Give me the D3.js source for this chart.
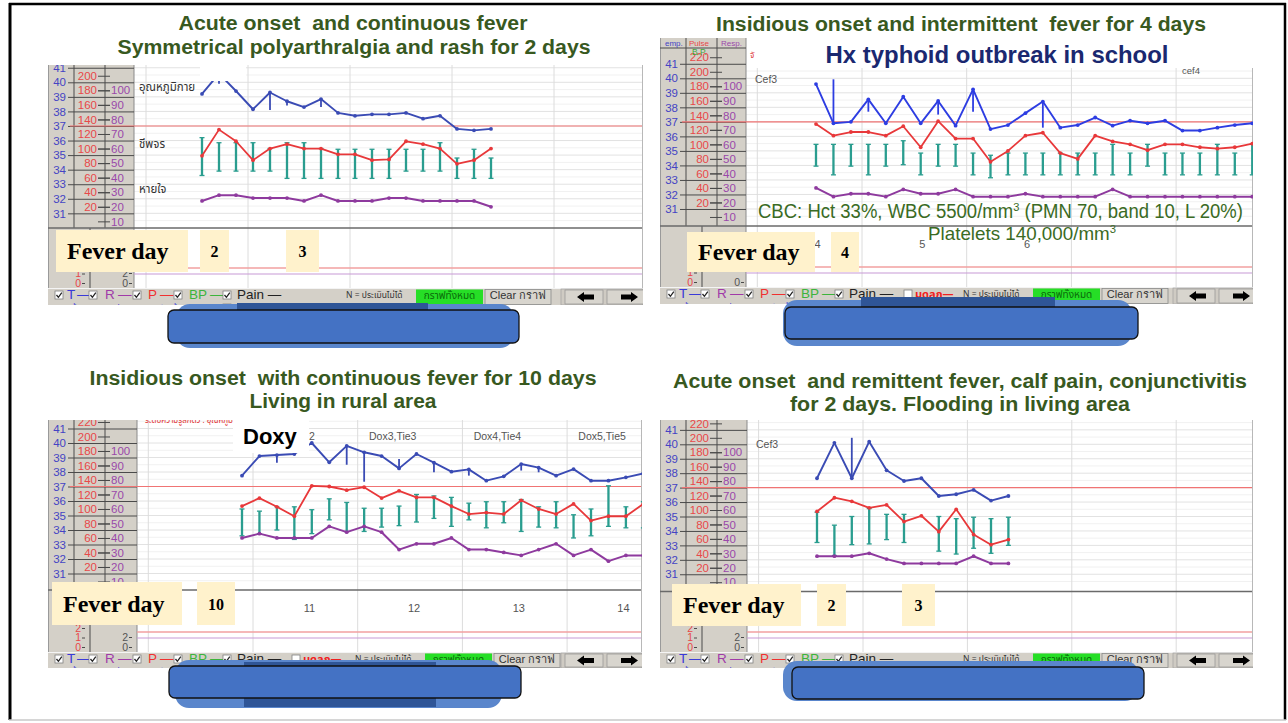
<!DOCTYPE html>
<html>
<head>
<meta charset="utf-8">
<script src="https://cdn.jsdelivr.net/npm/d3@7/dist/d3.min.js"></script>
<style>
html,body{margin:0;padding:0;background:#fff;}
svg{display:block;}
text{white-space:pre;}
</style>
</head>
<body>
<svg id="chart" width="1288" height="723"></svg>
<script>
// ================= DATA =================
// Panel 1 : acute onset, continuous fever (4-hourly readings)
const p1Temp  = [39.2,40.6,39.4,38.15,39.3,38.7,38.3,38.85,37.9,37.7,37.8,37.8,37.9,37.5,37.7,36.8,36.7,36.8];
const p1TempMarks = [[1,39.9],[4,38.1],[5,38.4],[7,38.3]];
const p1Pulse = [90,126,110,84,100,106,100,100,92,92,84,85,110,106,100,79,84,100];
const p1BpSys = [115,108,108,108,100,108,108,100,99,99,99,99,99,99,108,87,99,87];
const p1BpDia = [63,69,69,69,69,59,59,59,59,59,59,59,69,69,69,59,59,59];
const p1Resp  = [24,28,28,26,26,26,24,28,24,24,24,26,26,24,24,24,24,20];

// Panel 2 : insidious onset, intermittent fever
const p2Temp  = [39.6,36.9,37.0,38.55,36.9,38.73,36.9,38.44,36.74,39.24,36.5,36.78,37.6,38.4,36.6,36.78,37.3,36.74,37.08,36.9,37.08,36.4,36.4,36.6,36.78,36.9];
const p2TempMarks = [[1,39.93],[3,37.7],[7,37.5],[9,37.7],[13,36.6]];
const p2Pulse = [128,112,117,117,112,125,96,132,108,108,76,91,112,116,88,80,112,104,100,92,100,100,96,94,96,101];
const p2BpSys = [100,100,100,100,100,105,88,100,100,88,85,88,88,88,88,88,88,100,88,100,88,88,88,100,88,100];
const p2BpDia = [70,58,70,58,70,72,58,70,70,58,54,58,58,58,58,58,58,58,58,70,58,58,58,58,58,58];
const p2Resp  = [30,24,26,26,24,29,26,26,29,24,24,24,26,24,24,24,24,29,24,24,24,24,24,24,24,24];

// Panel 3 : insidious onset, continuous fever 10 days
const p3Temp  = [37.75,39.1,39.17,39.24,40.0,38.67,39.8,39.36,39.1,38.25,39.24,38.64,38.02,38.18,37.4,37.7,38.55,38.3,37.75,38.2,37.4,37.4,37.63,37.9];
const p3TempMarks = [[2,38.64],[6,38.5],[7,37.33],[9,38.9],[11,37.98],[13,37.75],[16,38.1],[17,37.98]];
const p3Pulse = [104,115,103,90,132,131,126,130,115,125,116,116,104,93,95,93,112,100,93,107,84,90,90,107];
const p3BpSys = [100,97,103,103,99,114,109,101,101,104,120,118,116,108,110,110,113,103,110,92,100,132,103,110];
const p3BpDia = [63,66,71,58,66,85,69,69,75,77,82,87,76,85,74,81,69,75,74,60,63,76,74,74];
const p3Resp  = [40,43,40,40,40,48,44,48,44,32,36,36,40,32,32,30,28,32,36,28,32,24,28,28];

// Panel 4 : acute onset, remittent fever
const p4Temp  = [37.65,40.1,37.65,40.18,38.2,37.46,37.65,36.42,36.54,36.84,36.1,36.42];
const p4TempMarks = [[2,40.45]];
const p4Pulse = [98,117,112,103,107,84,92,70,101,66,52,59];
const p4BpSys = [97,79,91,102,94,94,null,91,88,90,88,90];
const p4BpDia = [55,37,52,53,59,55,null,43,39,47,40,51];
const p4Resp  = [28,28,28,30,26,23,23,23,23,28,23,23];

// Axis tick values
const tempTicks  = [31,32,33,34,35,36,37,38,39,40,41];
const pulseTicks = [20,40,60,80,100,120,140,160,180,200,220];
const respTicks  = [10,20,30,40,50,60,70,80,90,100];
const levelTicks = [0,1,2];
const level2Ticks = [0,2];

// Texts
const titles = [
  ["Acute onset  and continuous fever","Symmetrical polyarthralgia and rash for 2 days"],
  ["Insidious onset and intermittent  fever for 4 days","Hx typhoid outbreak in school"],
  ["Insidious onset  with continuous fever for 10 days","Living in rural area"],
  ["Acute onset  and remittent fever, calf pain, conjunctivitis","for 2 days. Flooding in living area"]
];
const feverDayNumbers = [["2","3"],["4"],["10"],["2","3"]];
const dayLabels = [[],["4","5","6"],["11","12","13","14"],[]];
const p1SeriesNames = ["อุณหภูมิกาย","ชีพจร","หายใจ"];
const p3DrugLabels = ["2","Dox3,Tie3","Dox4,Tie4","Dox5,Tie5"];
const cbcLine1 = ["CBC: Hct 33%, WBC 5500/mm","3"," (PMN 70, band 10, L 20%)"];
const cbcLine2 = ["Platelets 140,000/mm","3"];

// ================= LAYOUT =================
const SANS = "'Liberation Sans', Arial, Helvetica, sans-serif";
const SERIF = "'Liberation Serif', 'Times New Roman', serif";
const THAI = "'Noto Sans Thai','Loma','Garuda','Tlwg Typist','Noto Sans','DejaVu Sans',sans-serif";

const PANELS = [
 {id:1, x0:48,  top:65,  plotTop:65,  right:643,  axW:86, sep:228,   tb:288, tbH:17, y40:82.3,  deg:14.56, xFirst:202, step:17,    grid0:248, md:false, tempColor:'#3A4BB4', dayOff:0,  dayShift:4, btnShift:-5},
 {id:2, x0:660, top:38,  plotTop:68,  right:1253, axW:86, sep:226,   tb:287, tbH:17, y40:78.3,  deg:14.52, xFirst:816, step:17.45, grid0:862, md:true,  tempColor:'#2D3DE2', dayOff:-1, dayShift:8, btnShift:0},
 {id:3, x0:48,  top:420, plotTop:420, right:642,  axW:89, sep:590,   tb:652, tbH:16, y40:443,   deg:14.5,  xFirst:242, step:17.45, grid0:253, md:true,  tempColor:'#3A4BB4', dayOff:0,  dayShift:4, btnShift:4},
 {id:4, x0:660, top:420, plotTop:420, right:1253, axW:87, sep:591.5, tb:652, tbH:16, y40:444.3, deg:14.44, xFirst:817, step:17.4,  grid0:863, md:false, tempColor:'#3A4BB4', dayOff:-1, dayShift:4, btnShift:0}
];
const feverBoxes = [
  {x:56,  y:230, w:132, h:42, nums:[{x:200,w:29},{x:286,w:33}]},
  {x:687, y:232, w:128, h:40, nums:[{x:831,w:28}]},
  {x:52,  y:582, w:130, h:43, nums:[{x:197,w:38}]},
  {x:672, y:584, w:129, h:42, nums:[{x:817,w:29},{x:902,w:33}]}
];
const panelData = [
  {temp:p1Temp, marks:p1TempMarks, pulse:p1Pulse, sys:p1BpSys, dia:p1BpDia, resp:p1Resp},
  {temp:p2Temp, marks:p2TempMarks, pulse:p2Pulse, sys:p2BpSys, dia:p2BpDia, resp:p2Resp},
  {temp:p3Temp, marks:p3TempMarks, pulse:p3Pulse, sys:p3BpSys, dia:p3BpDia, resp:p3Resp},
  {temp:p4Temp, marks:p4TempMarks, pulse:p4Pulse, sys:p4BpSys, dia:p4BpDia, resp:p4Resp}
];
const COL = {pulse:'#E8383A', resp:'#8E3A9E', bp:'#2A9D8F', tempLbl:'#4444C4', pulseLbl:'#E84848', respLbl:'#9A48AA', gray:'#D4D0C8'};

const svg = d3.select('#chart');
const defs = svg.append('defs');
svg.append('rect').attr('width',1288).attr('height',723).attr('fill','#fff');

function styleAxis(sel, color, size) {
  sel.select('.domain').remove();
  sel.selectAll('.tick line').attr('stroke','#4a4a4a').attr('stroke-width',1);
  sel.selectAll('.tick text').attr('fill',color).attr('font-size',size).attr('font-family',SANS);
}

function checkbox(g, x, y, checked) {
  g.append('rect').attr('x',x).attr('y',y).attr('width',8).attr('height',8)
    .attr('fill','#fff').attr('stroke','#808080').attr('stroke-width',0.8);
  if (checked) g.append('path').attr('d',`M${x+1.5},${y+4} L${x+3.4},${y+6.3} L${x+6.8},${y+1.6}`)
    .attr('fill','none').attr('stroke','#222').attr('stroke-width',1.3);
}

function arrow(g, cx, cy, dir) {
  const s = dir;
  g.append('path').attr('d',
    `M${cx-9*s},${cy} L${cx-2*s},${cy-5} L${cx-2*s},${cy-2.5} L${cx+8*s},${cy-2.5} L${cx+8*s},${cy+2.5} L${cx-2*s},${cy+2.5} L${cx-2*s},${cy+5} Z`)
    .attr('fill','#000');
}

function toolbar(g, c) {
  const x0 = c.x0, y0 = c.tb, w = c.right - c.x0, h = c.tbH, bs = c.btnShift;
  const t = g.append('g');
  t.append('rect').attr('x',x0).attr('y',y0).attr('width',w).attr('height',h+4).attr('fill',COL.gray);
  t.append('line').attr('x1',x0).attr('x2',x0+w).attr('y1',y0+0.5).attr('y2',y0+0.5).attr('stroke','#f4f4f4');
  const ty = y0 + 11, by = y0 + 3;
  const items = [
    ['cb',7],['T',19,'#3A3AD8'],['—',29,'#3A3AD8'],['cb',41],['R',57,'#A03AA8'],['—',70,'#A03AA8'],
    ['cb',85],['P',100,'#F03030'],['—',112,'#F03030'],['cb',126],['BP',141,'#3CB43C'],['—',162,'#3CB43C'],
    ['cb',175],['Pain —',189,'#222']
  ];
  items.forEach(it => {
    if (it[0] === 'cb') checkbox(t, x0+it[1], by, true);
    else t.append('text').attr('x',x0+it[1]).attr('y',ty).attr('fill',it[2])
      .attr('font-family',SANS).attr('font-size',13.5).text(it[0]);
  });
  if (c.md) {
    checkbox(t, x0+244, by, false);
    t.append('text').attr('x',x0+255).attr('y',ty-0.5).attr('fill','#F02020').attr('font-weight','bold')
      .attr('font-family',THAI).attr('font-size',11).text('มดลูก—');
  }
  t.append('text').attr('x',x0+303+bs).attr('y',ty-1.5).attr('fill','#333').attr('font-family',THAI)
    .attr('font-size',8.5).text('N = ประเมินไม่ได้');
  // second row (mostly hidden below the toolbar edge)
  [['• • = ก้น',7],['• • = ปาก',50],['• • = รักแร้',95],['0 = ท',140]].forEach(r => {
    t.append('text').attr('x',x0+r[1]).attr('y',y0+h+6).attr('fill','#3A3AD8').attr('font-family',THAI)
      .attr('font-size',8).text(r[0]);
  });
  checkbox(t, x0+175, y0+h-1, true);
  // buttons
  t.append('rect').attr('x',x0+373+bs).attr('y',y0+1.5).attr('width',67).attr('height',h-2).attr('fill','#26DE26');
  t.append('text').attr('x',x0+406.5+bs).attr('y',ty).attr('text-anchor','middle').attr('fill','#0A6A0A')
    .attr('font-family',THAI).attr('font-size',10).text('กราฟทั้งหมด');
  t.append('rect').attr('x',x0+442+bs).attr('y',y0+1.5).attr('width',66).attr('height',h-2)
    .attr('fill','#D8D5CE').attr('stroke','#8a8a8a').attr('stroke-width',0.8);
  t.append('text').attr('x',x0+475+bs).attr('y',ty).attr('text-anchor','middle').attr('fill','#333')
    .attr('font-family',SANS).attr('font-size',11).text('Clear กราฟ');
  t.append('rect').attr('x',x0+513).attr('y',y0+1).attr('width',w-513).attr('height',h-1)
    .attr('fill','#CFCBC3').attr('stroke','#9a9a9a').attr('stroke-width',0.6);
  t.append('rect').attr('x',x0+517).attr('y',y0+2).attr('width',38).attr('height',h-3)
    .attr('fill','#D8D5CE').attr('stroke','#888').attr('stroke-width',0.6);
  t.append('rect').attr('x',x0+559).attr('y',y0+2).attr('width',38).attr('height',h-3)
    .attr('fill','#D8D5CE').attr('stroke','#888').attr('stroke-width',0.6);
  arrow(t, x0+538, y0+h/2+0.5, 1);
  arrow(t, x0+581, y0+h/2+0.5, -1);
}

function drawPanel(c, d, pi) {
  defs.append('clipPath').attr('id','clip'+c.id).append('rect')
    .attr('x',c.x0).attr('y',c.top).attr('width',c.right-c.x0).attr('height',c.tb+c.tbH-c.top);
  const g = svg.append('g').attr('clip-path',`url(#clip${c.id})`);
  const ax = c.x0 + c.axW;
  const yT = d3.scaleLinear().domain([31,40]).range([c.y40+9*c.deg, c.y40]);
  const yP = d3.scaleLinear().domain([20,200]).range([yT(31.45), yT(40.45)]);
  const yR = d3.scaleLinear().domain([10,100]).range([yT(30.45), yT(39.45)]);
  const xS = d3.scaleLinear().domain([0,1]).range([c.xFirst, c.xFirst+c.step]);
  const gridStep = c.step*6;
  const yLow = d3.scaleLinear().domain([0,2]).range([c.tb-5, c.tb-24]);
  const yLow2 = d3.scaleLinear().domain([0,2]).range([c.tb-5, c.tb-15]);
  const fb = feverBoxes[pi];
  const visLevels = levelTicks.filter(v => yLow(v) > fb.y + fb.h);
  const visLevels2 = level2Ticks.filter(v => yLow2(v) > fb.y + fb.h);

  // gray axis area + white plot
  g.append('rect').attr('x',c.x0).attr('y',c.top).attr('width',c.axW).attr('height',c.tb-c.top).attr('fill',COL.gray);
  g.append('rect').attr('x',ax).attr('y',c.plotTop).attr('width',c.right-ax).attr('height',c.tb-c.plotTop).attr('fill','#fff');

  // horizontal grid
  const hv = d3.range(30.5,41.6,0.5).filter(t => yT(t) > c.plotTop && yT(t) < c.sep - 2);
  g.append('g').selectAll('line').data(hv).join('line')
    .attr('x1',ax).attr('x2',c.right).attr('y1',t=>yT(t)).attr('y2',t=>yT(t))
    .attr('stroke', t => Number.isInteger(t) ? '#E2E2E2' : '#F1F1F1').attr('stroke-width',1);
  // vertical day grid
  const vg = d3.range(-2,8).map(k => c.grid0 + k*gridStep).filter(x => x > ax + 2 && x < c.right - 1);
  g.append('g').selectAll('line').data(vg).join('line')
    .attr('x1',x=>x).attr('x2',x=>x).attr('y1',c.plotTop).attr('y2',c.tb)
    .attr('stroke','#DCDCDC').attr('stroke-width',1);

  // gray axis lines
  [26,57].forEach(dx => g.append('line').attr('x1',c.x0+dx).attr('x2',c.x0+dx).attr('y1',c.top).attr('y2',c.sep)
    .attr('stroke','#4a4a4a').attr('stroke-width',1));
  g.append('line').attr('x1',c.x0+42).attr('x2',c.x0+42).attr('y1',c.sep).attr('y2',c.tb).attr('stroke','#4a4a4a');
  g.append('line').attr('x1',ax).attr('x2',ax).attr('y1',c.top).attr('y2',c.tb).attr('stroke','#8a8a8a');
  g.append('line').attr('x1',c.x0+0.5).attr('x2',c.x0+0.5).attr('y1',c.top).attr('y2',c.tb).attr('stroke','#9a9a9a');

  // axes
  const tA = g.append('g').attr('transform',`translate(${ax},0)`)
    .call(d3.axisLeft(yT).tickValues(tempTicks).tickSize(c.axW-20).tickPadding(2).tickFormat(d3.format('d')));
  styleAxis(tA, COL.tempLbl, 11.5);
  const pA = g.append('g').attr('transform',`translate(${c.x0+62},0)`)
    .call(d3.axisLeft(yP).tickValues(pulseTicks).tickSize(12).tickPadding(1).tickFormat(d3.format('d')));
  styleAxis(pA, COL.pulseLbl, 11.5);
  const rA = g.append('g').attr('transform',`translate(${c.x0+50},0)`)
    .call(d3.axisRight(yR).tickValues(respTicks).tickSize(12).tickPadding(1).tickFormat(d3.format('d')));
  styleAxis(rA, COL.respLbl, 11.5);
  const lA = g.append('g').attr('transform',`translate(${c.x0+37},0)`)
    .call(d3.axisLeft(yLow).tickValues(visLevels).tickSize(3).tickPadding(1).tickFormat(d3.format('d')));
  styleAxis(lA, COL.pulseLbl, 10.5);
  const lB = g.append('g').attr('transform',`translate(${c.x0+84},0)`)
    .call(d3.axisLeft(yLow2).tickValues(visLevels2).tickSize(3).tickPadding(1).tickFormat(d3.format('d')));
  styleAxis(lB, '#555', 10.5);

  // P2 header cells
  if (c.id === 2) {
    g.append('line').attr('x1',c.x0).attr('x2',ax).attr('y1',c.top+10).attr('y2',c.top+10).attr('stroke','#4a4a4a');
    [['emp.',c.x0+5,'#4444C4'],['Pulse',c.x0+29,'#E84848'],['Resp.',c.x0+61,'#9A48AA']].forEach(h => {
      g.append('text').attr('x',h[1]).attr('y',c.top+8).attr('fill',h[2]).attr('font-family',SANS).attr('font-size',8).text(h[0]);
    });
    g.append('text').attr('x',c.x0+32).attr('y',c.top+17).attr('fill','#3CA83C').attr('font-family',SANS).attr('font-size',8.5).text('B.P.');
    g.append('text').attr('x',ax+4).attr('y',c.top+20).attr('fill','#E04040').attr('font-family',THAI).attr('font-size',8).text('จั');
  }

  // 37 reference line
  g.append('line').attr('x1',c.x0+22).attr('x2',c.right).attr('y1',yT(37)).attr('y2',yT(37))
    .attr('stroke','#F07474').attr('stroke-width',1.2);
  // separator & lower lines
  g.append('line').attr('x1',c.x0).attr('x2',c.right).attr('y1',c.sep).attr('y2',c.sep).attr('stroke','#6a6a6a').attr('stroke-width',1.5);
  g.append('line').attr('x1',ax).attr('x2',c.right).attr('y1',c.tb-20).attr('y2',c.tb-20).attr('stroke','#F2A0A0').attr('stroke-width',1.5);
  g.append('line').attr('x1',ax).attr('x2',c.right).attr('y1',c.tb-14).attr('y2',c.tb-14).attr('stroke','#C89AD6').attr('stroke-width',1.2);
  g.append('line').attr('x1',c.right-0.5).attr('x2',c.right-0.5).attr('y1',c.plotTop).attr('y2',c.tb).attr('stroke','#B8B8B8');

  // day labels
  g.append('g').selectAll('text').data(dayLabels[pi]).join('text')
    .attr('x',(v,k) => c.grid0 + (k + c.dayOff + 0.5)*gridStep + c.dayShift).attr('y',c.sep+22)
    .attr('text-anchor','middle').attr('fill','#555').attr('font-family',SANS).attr('font-size',11).text(v=>v);

  // BP bars
  const bp = d.sys.map((s,i) => ({i, s, dd:d.dia[i]})).filter(v => v.s != null);
  const bg = g.append('g').attr('stroke',COL.bp);
  bg.selectAll('line.bar').data(bp).join('line').attr('class','bar')
    .attr('x1',v=>xS(v.i)).attr('x2',v=>xS(v.i)).attr('y1',v=>yP(v.s)).attr('y2',v=>yP(v.dd)).attr('stroke-width',2.3);
  bg.selectAll('line.capT').data(bp).join('line').attr('class','capT')
    .attr('x1',v=>xS(v.i)-2.5).attr('x2',v=>xS(v.i)+2.5).attr('y1',v=>yP(v.s)).attr('y2',v=>yP(v.s)).attr('stroke-width',1.3);
  bg.selectAll('line.capB').data(bp).join('line').attr('class','capB')
    .attr('x1',v=>xS(v.i)-2.5).attr('x2',v=>xS(v.i)+2.5).attr('y1',v=>yP(v.dd)).attr('y2',v=>yP(v.dd)).attr('stroke-width',1.3);

  // series lines
  const series = [
    {vals:d.resp, y:yR, color:COL.resp, w:2},
    {vals:d.pulse, y:yP, color:COL.pulse, w:1.8},
    {vals:d.temp, y:yT, color:c.tempColor, w:1.9}
  ];
  series.forEach(s => {
    const line = d3.line().defined(v => v != null).x((v,i) => xS(i)).y(v => s.y(v));
    g.append('path').datum(s.vals).attr('d',line).attr('fill','none').attr('stroke',s.color)
      .attr('stroke-width',s.w).attr('stroke-linejoin','round');
    g.append('g').selectAll('circle').data(s.vals.map((v,i)=>({v,i})).filter(o=>o.v!=null)).join('circle')
      .attr('cx',o=>xS(o.i)).attr('cy',o=>s.y(o.v)).attr('r',1.9).attr('fill',s.color);
  });
  // temperature vertical marks
  g.append('g').selectAll('line').data(d.marks).join('line')
    .attr('x1',m=>xS(m[0])).attr('x2',m=>xS(m[0])).attr('y1',m=>yT(d.temp[m[0]])).attr('y2',m=>yT(m[1]))
    .attr('stroke',c.tempColor).attr('stroke-width',1.8);

  // panel specific annotations
  if (c.id === 1) {
    g.append('rect').attr('x',200).attr('y',c.top).attr('width',46).attr('height',16).attr('fill','#fff');
    const ly = [yT(39.4), yT(35.5), yT(32.4)];
    p1SeriesNames.forEach((n,k) => g.append('text').attr('x',ax+5).attr('y',ly[k]).attr('fill','#333')
      .attr('font-family',THAI).attr('font-size',11.5).text(n));
  }
  if (c.id === 2) {
    g.append('text').attr('x',ax+9).attr('y',yT(39.7)).attr('fill','#555').attr('font-family',SANS).attr('font-size',10.5).text('Cef3');
    g.append('text').attr('x',1182).attr('y',yT(40.3)).attr('fill','#555').attr('font-family',SANS).attr('font-size',9.5).text('cef4');
  }
  if (c.id === 3) {
    g.append('text').attr('x',ax+8).attr('y',c.top+3).attr('fill','#E03030').attr('font-family',THAI)
      .attr('font-size',9).attr('textLength',88).attr('lengthAdjust','spacingAndGlyphs').text('ระดับความรู้สึกตัว : อุณหภูมิ');
    g.append('rect').attr('x',233).attr('y',c.top).attr('width',76).attr('height',33).attr('fill','#fff');
    g.append('g').selectAll('text').data(p3DrugLabels).join('text')
      .attr('x',(v,k)=> k === 0 ? 309 : c.grid0 + k*gridStep + 35).attr('y',yT(40.2))
      .attr('text-anchor',(v,k)=> k === 0 ? 'start' : 'middle')
      .attr('fill','#555').attr('font-family',SANS).attr('font-size',10.5).text(v=>v);
    g.append('text').attr('x',243).attr('y',444).attr('fill','#000').attr('font-family',SANS)
      .attr('font-weight','bold').attr('font-size',22).text('Doxy');
  }
  if (c.id === 4) {
    g.append('text').attr('x',ax+9).attr('y',yT(39.75)).attr('fill','#555').attr('font-family',SANS).attr('font-size',10.5).text('Cef3');
  }

  toolbar(g, c);
}

PANELS.forEach((c,i) => drawPanel(c, panelData[i], i));

// ---- CBC note (panel 2) ----
function supText(parts, x, y, len, size) {
  const t = svg.append('text').attr('x',x).attr('y',y).attr('fill','#3A6B24').attr('font-family',SANS)
    .attr('font-size',size).attr('textLength',len).attr('lengthAdjust','spacingAndGlyphs');
  parts.forEach((p,k) => {
    const ts = t.append('tspan').text(p);
    if (p === '3') ts.attr('dy',-7).attr('font-size',size*0.6);
    else if (k > 0 && parts[k-1] === '3') ts.attr('dy',7);
  });
}
supText(cbcLine1, 758, 218, 485, 19.5);
supText(cbcLine2, 928, 240, 188, 18.5);

// ---- Fever day boxes ----
feverBoxes.forEach((b,i) => {
  svg.append('rect').attr('x',b.x).attr('y',b.y).attr('width',b.w).attr('height',b.h).attr('fill','#FFF2CC');
  svg.append('text').attr('x',b.x+11).attr('y',b.y+b.h/2+8).attr('fill','#000').attr('font-family',SERIF)
    .attr('font-weight','bold').attr('font-size',24).text('Fever day');
  b.nums.forEach((n,k) => {
    svg.append('rect').attr('x',n.x).attr('y',b.y).attr('width',n.w).attr('height',b.h).attr('fill','#FFF2CC');
    svg.append('text').attr('x',n.x+n.w/2).attr('y',b.y+b.h/2+6).attr('text-anchor','middle').attr('fill','#000')
      .attr('font-family',SERIF).attr('font-weight','bold').attr('font-size',16).text(feverDayNumbers[i][k]);
  });
});

// ---- blue cover boxes ----
const blueBoxes = [
  {main:[168,310,351,33], shadow:[176,304,338,44], strip:[237,303,191,8]},
  {main:[785,307,353,32], shadow:[783,300,349,46], strip:[861,297,194,12]},
  {main:[169,666,352,32], shadow:[175,660,327,48], strip:[244,662,192,45]},
  {main:[792,667,352,32], shadow:[783,661,356,40], strip:null}
];
blueBoxes.forEach(b => {
  svg.append('rect').attr('x',b.shadow[0]).attr('y',b.shadow[1]).attr('width',b.shadow[2]).attr('height',b.shadow[3])
    .attr('rx',14).attr('fill','#5A86CC');
  if (b.strip) svg.append('rect').attr('x',b.strip[0]).attr('y',b.strip[1]).attr('width',b.strip[2]).attr('height',b.strip[3])
    .attr('fill','#2F5597');
  svg.append('rect').attr('x',b.main[0]).attr('y',b.main[1]).attr('width',b.main[2]).attr('height',b.main[3])
    .attr('rx',6).attr('fill','#4472C4').attr('stroke','#111').attr('stroke-width',1.3);
});

// ---- titles ----
const titleLayout = [
  [{cx:353, y:30, len:349, size:20, color:'#38591F'}, {cx:354, y:54, len:473, size:20, color:'#38591F'}],
  [{cx:961, y:31, len:490, size:20, color:'#38591F'}, {cx:997, y:63, len:343, size:24, color:'#1A2870'}],
  [{cx:343, y:385, len:507, size:20, color:'#38591F'}, {cx:343, y:408, len:187, size:20, color:'#38591F'}],
  [{cx:960, y:388, len:574, size:20, color:'#38591F'}, {cx:960, y:411, len:340, size:20, color:'#38591F'}]
];
titles.forEach((pair,i) => pair.forEach((txt,k) => {
  const L = titleLayout[i][k];
  svg.append('text').attr('x',L.cx).attr('y',L.y).attr('text-anchor','middle').attr('fill',L.color)
    .attr('font-family',SANS).attr('font-weight','bold').attr('font-size',L.size)
    .attr('textLength',L.len).attr('lengthAdjust','spacingAndGlyphs').text(txt);
}));

// ---- frame ----
svg.append('line').attr('x1',10).attr('x2',10).attr('y1',3).attr('y2',720).attr('stroke','#000').attr('stroke-width',3);
svg.append('line').attr('x1',9).attr('x2',1286).attr('y1',4).attr('y2',4).attr('stroke','#000').attr('stroke-width',2.5);
svg.append('line').attr('x1',1285).attr('x2',1285).attr('y1',3).attr('y2',720).attr('stroke','#000').attr('stroke-width',2.5);
svg.append('line').attr('x1',9).attr('x2',1286).attr('y1',720).attr('y2',720).attr('stroke','#C8C8C8').attr('stroke-width',1.5);
</script>
</body>
</html>
